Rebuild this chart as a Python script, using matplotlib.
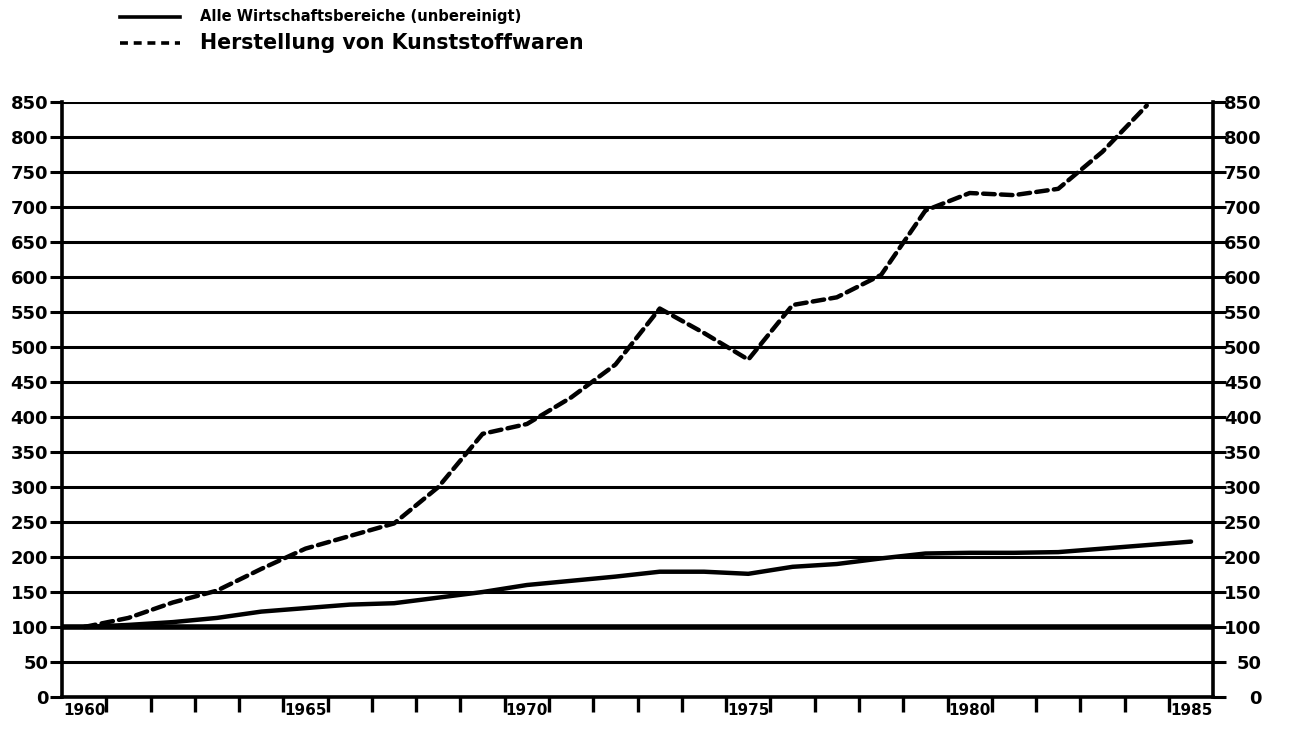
import matplotlib
matplotlib.use("Agg")
import matplotlib.pyplot as plt
from matplotlib.lines import Line2D
import matplotlib.transforms as mtrans

plt.rcParams['font.family'] = ['DejaVu Sans']
plt.rcParams['font.weight'] = 'bold'

years = list(range(1960, 1986))
alle = [100, 103, 107, 113, 122, 127, 132, 134, 142, 150, 160, 166, 172, 179, 179, 176,
        186, 190, 198, 205, 206, 206, 207, 212, 217, 222]
kunst_years = list(range(1960, 1985))
kunst = [100, 113, 135, 152, 183, 212, 230, 248, 300, 376, 390, 428, 475, 555, 520, 482,
         560, 571, 603, 695, 720, 717, 726, 779, 845]

label_alle = "Alle Wirtschaftsbereiche (unbereinigt)"
label_kunst = "Herstellung von Kunststoffwaren"
y_ticks = list(range(0, 851, 50))
year_labels = [1960, 1965, 1970, 1975, 1980, 1985]

fig = plt.figure(figsize=(12.92, 7.34), dpi=100)
ax = fig.add_axes([0.048, 0.0504, 0.891, 0.8106])

ax.set_xlim(years[0] - 0.5, years[-1] + 0.5)
ax.set_ylim(0, 850)

# grid lines
for v in y_ticks:
    ax.axhline(v, color='black', lw=4.0 if v == 100 else 2.2, zorder=1, solid_capstyle='butt')

ax.plot(years, alle, color='black', lw=3.2, zorder=3, solid_capstyle='round', solid_joinstyle='round')
ax.plot(kunst_years, kunst, color='black', lw=3.2, zorder=3, linestyle=(0, (2.6, 1.4)),
        dash_capstyle='round')

for s in ['left', 'right', 'bottom']:
    ax.spines[s].set_linewidth(2.6)
ax.spines['top'].set_visible(False)

# y ticks both sides
ax.set_yticks(y_ticks)
ax.set_yticklabels([str(v) for v in y_ticks], fontsize=13, fontweight='bold')
ax.tick_params(axis='y', which='major', left=True, right=True, labelleft=True, labelright=True,
               length=9, width=2.2, direction='out', pad=1)
offset = mtrans.ScaledTranslation(0.345, 0, fig.dpi_scale_trans)
for t in ax.yaxis.get_major_ticks():
    t.label2.set_horizontalalignment('right')
    t.label2.set_fontsize(13)
    t.label2.set_fontweight('bold')
    t.label2.set_transform(t.label2.get_transform() + offset)

# x ticks at year boundaries, labels centered in intervals
ax.set_xticks([y + 0.5 for y in years[:-1]])
ax.set_xticklabels([])
ax.tick_params(axis='x', which='major', length=11, width=2.4, direction='out')
ax.set_xticks(year_labels, minor=True)
ax.set_xticklabels([str(y) for y in year_labels], minor=True, fontsize=11, fontweight='bold')
ax.tick_params(axis='x', which='minor', length=0, pad=4)

# legend drawn manually
fig.add_artist(Line2D([0.093, 0.139], [0.977, 0.977], transform=fig.transFigure,
                      color='black', lw=2.6))
fig.add_artist(Line2D([0.093, 0.139], [0.941, 0.941], transform=fig.transFigure,
                      color='black', lw=2.6, linestyle=(0, (2.2, 1.6))))
fig.text(0.155, 0.977, label_alle, fontsize=10.6, fontweight='bold', va='center', ha='left')
fig.text(0.155, 0.941, label_kunst, fontsize=14.8, fontweight='bold', va='center', ha='left')

fig.savefig("out.png", dpi=100, facecolor='white')
